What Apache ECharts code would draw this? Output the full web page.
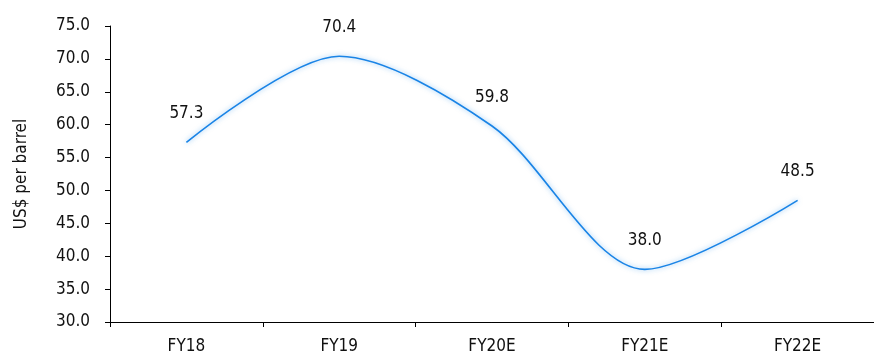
<!DOCTYPE html>
<html>
<head>
<meta charset="utf-8">
<script src="https://cdn.jsdelivr.net/npm/echarts@6/dist/echarts.min.js"></script>
<style>
html,body{margin:0;padding:0;background:#fff;}
#c{width:874px;height:358px;}
</style>
</head>
<body>
<div id="c"></div>
<script>
const categories = ['FY18', 'FY19', 'FY20E', 'FY21E', 'FY22E'];
const values = [57.3, 70.4, 59.8, 38.0, 48.5];
const yTicks = { min: 30, max: 75, interval: 5 };
const yName = 'US$ per barrel';

const FONT = '"DejaVu Sans Condensed", "Liberation Sans Narrow", sans-serif';
const chart = echarts.init(document.getElementById('c'), null, { renderer: 'canvas' });
chart.setOption({
  animation: false,
  grid: { left: 110, right: 0, top: 26, bottom: 36, containLabel: false },
  xAxis: {
    type: 'category',
    data: categories,
    boundaryGap: true,
    axisLine: { lineStyle: { color: '#000', width: 1 } },
    axisTick: { show: true, length: 5, alignWithLabel: false, lineStyle: { color: '#000' } },
    axisLabel: { color: '#111', fontFamily: FONT, fontSize: 17, margin: 16 }
  },
  yAxis: {
    type: 'value',
    min: yTicks.min, max: yTicks.max, interval: yTicks.interval,
    name: yName,
    nameLocation: 'middle',
    nameGap: 80,
    nameRotate: 90,
    nameTextStyle: { color: '#111', fontFamily: FONT, fontSize: 17 },
    splitLine: { show: false },
    axisLine: { show: true, lineStyle: { color: '#000', width: 1 } },
    axisTick: { show: true, length: 5, lineStyle: { color: '#000' } },
    axisLabel: { color: '#111', fontFamily: FONT, fontSize: 17, margin: 20,
      formatter: v => v.toFixed(1) }
  },
  series: [{
    type: 'line',
    data: values,
    smooth: 0.3,
    showSymbol: true,
    symbol: 'circle',
    symbolSize: 2,
    itemStyle: { color: 'rgba(26,132,230,0)', borderWidth: 0 },
    lineStyle: { color: '#1a84e6', width: 1.6, shadowColor: 'rgba(30,136,229,0.55)', shadowBlur: 5 },
    label: { show: true, position: 'top', distance: 19, color: '#111', fontFamily: FONT, fontSize: 17,
      formatter: p => Number(p.value).toFixed(1) }
  }]
});
</script>
</body>
</html>
